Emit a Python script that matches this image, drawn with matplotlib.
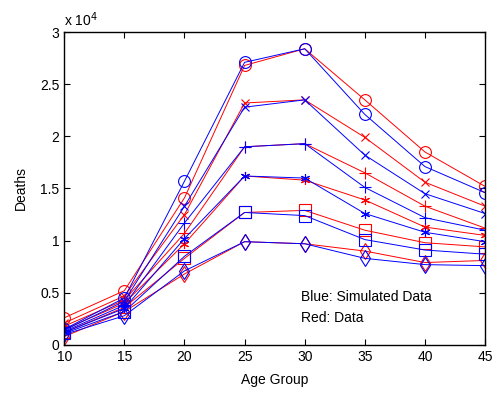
#!/usr/bin/env python3
import matplotlib
matplotlib.use('Agg')
import matplotlib.pyplot as plt
from matplotlib.ticker import FuncFormatter

plt.rcParams['font.family'] = ['Liberation Sans', 'DejaVu Sans']

ages = [10, 15, 20, 25, 30, 35, 40, 45]
# matlab-like markers: circle, x, plus, asterisk, square, diamond
markers = ['o', 'x', '+', (6, 2, 0), 's', 'd']
msizes = [8.5, 5.5, 8, 6.5, 8, 8.5]

# deaths, in units of 1e4
data_red = [
    [0.26, 0.52, 1.41, 2.68, 2.84, 2.35, 1.85, 1.52],
    [0.21, 0.47, 1.25, 2.32, 2.35, 1.99, 1.56, 1.33],
    [0.18, 0.43, 1.07, 1.90, 1.93, 1.65, 1.33, 1.12],
    [0.15, 0.40, 0.97, 1.62, 1.58, 1.39, 1.13, 1.05],
    [0.12, 0.36, 0.83, 1.27, 1.29, 1.10, 0.98, 0.94],
    [0.08, 0.32, 0.68, 0.99, 0.97, 0.90, 0.79, 0.81],
]
data_blue = [
    [0.15, 0.45, 1.57, 2.71, 2.84, 2.21, 1.71, 1.46],
    [0.14, 0.42, 1.33, 2.28, 2.35, 1.82, 1.45, 1.26],
    [0.13, 0.38, 1.17, 1.90, 1.93, 1.51, 1.22, 1.10],
    [0.12, 0.35, 1.02, 1.62, 1.60, 1.26, 1.08, 0.99],
    [0.11, 0.32, 0.85, 1.27, 1.24, 1.01, 0.91, 0.87],
    [0.10, 0.28, 0.71, 0.99, 0.97, 0.83, 0.77, 0.76],
]

fig = plt.figure(figsize=(4.94, 3.96), dpi=100)
ax = fig.add_axes([0.130, 0.129, 0.852, 0.790])

for m, ms, vals in zip(markers, msizes, data_red):
    ax.plot(ages, [v * 1e4 for v in vals], color='red', marker=m, mfc='none',
            ms=ms, lw=0.7, mew=0.8)
for m, ms, vals in zip(markers, msizes, data_blue):
    ax.plot(ages, [v * 1e4 for v in vals], color='blue', marker=m, mfc='none',
            ms=ms, lw=0.7, mew=0.8)

ax.set_xlim(10, 45)
ax.set_ylim(0, 30000)
ax.set_xticks(ages)
ax.set_yticks([0, 5000, 10000, 15000, 20000, 25000, 30000])
ax.yaxis.set_major_formatter(FuncFormatter(lambda v, p: '%g' % (v / 1e4)))
ax.tick_params(direction='in', top=True, right=True, labelsize=10, length=4)
for s in ax.spines.values():
    s.set_linewidth(1.0)

ax.text(0.0, 1.01, r'x 10$^4$', transform=ax.transAxes, fontsize=10,
        ha='left', va='bottom')
ax.text(29.7, 4600, 'Blue: Simulated Data', fontsize=10, va='center')
ax.text(29.7, 2600, 'Red: Data', fontsize=10, va='center')

ax.set_xlabel('Age Group', fontsize=10, labelpad=7)
ax.set_ylabel('Deaths', fontsize=10, labelpad=9)

fig.savefig('out.png', dpi=100)
